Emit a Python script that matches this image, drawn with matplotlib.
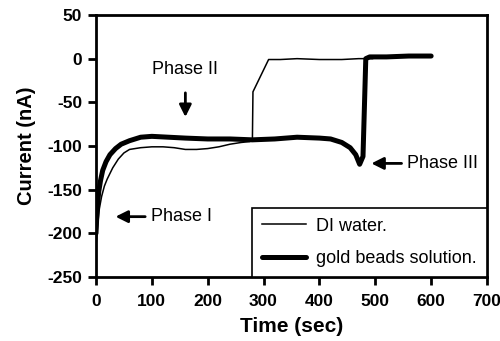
import matplotlib.pyplot as plt

plt.rcParams['font.family'] = ['Liberation Sans', 'DejaVu Sans']
plt.rcParams['axes.unicode_minus'] = False

# DI water (thin)
water_t = [0, 3, 6, 10, 15, 20, 30, 40, 50, 60, 80, 100, 120, 140, 160, 180, 200,
           220, 240, 260, 275, 280, 281, 309, 330, 360, 400, 440, 470, 495]
water_i = [-215, -190, -172, -158, -146, -138, -125, -115, -108, -104, -102, -101,
           -101, -102, -104, -104, -103, -101, -98, -96, -95, -93, -38, -1, -1,
           0, -1, -1, 0, 0]

# gold beads solution (thick)
gold_t = [0, 2, 5, 8, 12, 18, 25, 35, 45, 60, 80, 100, 130, 160, 200, 240, 280,
          320, 360, 400, 420, 440, 455, 465, 472, 478, 483, 490, 520, 560, 600]
gold_i = [-200, -172, -152, -140, -128, -118, -110, -103, -98, -94, -90, -89,
          -90, -91, -92, -92, -93, -92, -90, -91, -92, -96, -102, -110, -121,
          -112, 0, 2, 2, 3, 3]

fig = plt.figure(figsize=(5, 3.41), dpi=100)
ax = fig.add_axes([0.192, 0.188, 0.782, 0.768])

ax.plot(water_t, water_i, color='black', lw=1.1, label='DI water.')
ax.plot(gold_t, gold_i, color='black', lw=3.6, solid_capstyle='round',
        solid_joinstyle='round', label='gold beads solution.')

ax.set_xlim(0, 700)
ax.set_ylim(-250, 50)
ax.set_xticks(range(0, 701, 100))
ax.set_yticks(range(-250, 51, 50))

for s in ax.spines.values():
    s.set_linewidth(2)
ax.tick_params(direction='out', width=2, length=6, labelsize=12.5)
ax.tick_params(axis='x', pad=6)
ax.tick_params(axis='y', pad=4)
for lab in ax.get_xticklabels() + ax.get_yticklabels():
    lab.set_fontweight('bold')

ax.set_xlabel('Time (sec)', fontsize=15, fontweight='bold', labelpad=6)
ax.set_ylabel('Current (nA)', fontsize=14.5, fontweight='bold', labelpad=8)

arrow = dict(arrowstyle='-|>', color='black', lw=2, mutation_scale=18)
ax.annotate('', xy=(160, -70), xytext=(160, -36), arrowprops=arrow)
ax.text(160, -12, 'Phase II', fontsize=13, ha='center', va='center')
ax.annotate('', xy=(488, -120), xytext=(552, -120), arrowprops=arrow)
ax.text(557, -120, 'Phase III', fontsize=13, ha='left', va='center')
ax.annotate('', xy=(30, -181), xytext=(93, -181), arrowprops=arrow)
ax.text(98, -181, 'Phase I', fontsize=13, ha='left', va='center')

leg = ax.legend(loc='lower right', bbox_to_anchor=(1.0, 0.0), fontsize=13,
                fancybox=False, framealpha=1, edgecolor='black',
                borderaxespad=0, handlelength=2.4, handletextpad=0.6,
                borderpad=0.55, labelspacing=0.85)
leg.get_frame().set_linewidth(1.2)

fig.savefig('out.png', dpi=100)
